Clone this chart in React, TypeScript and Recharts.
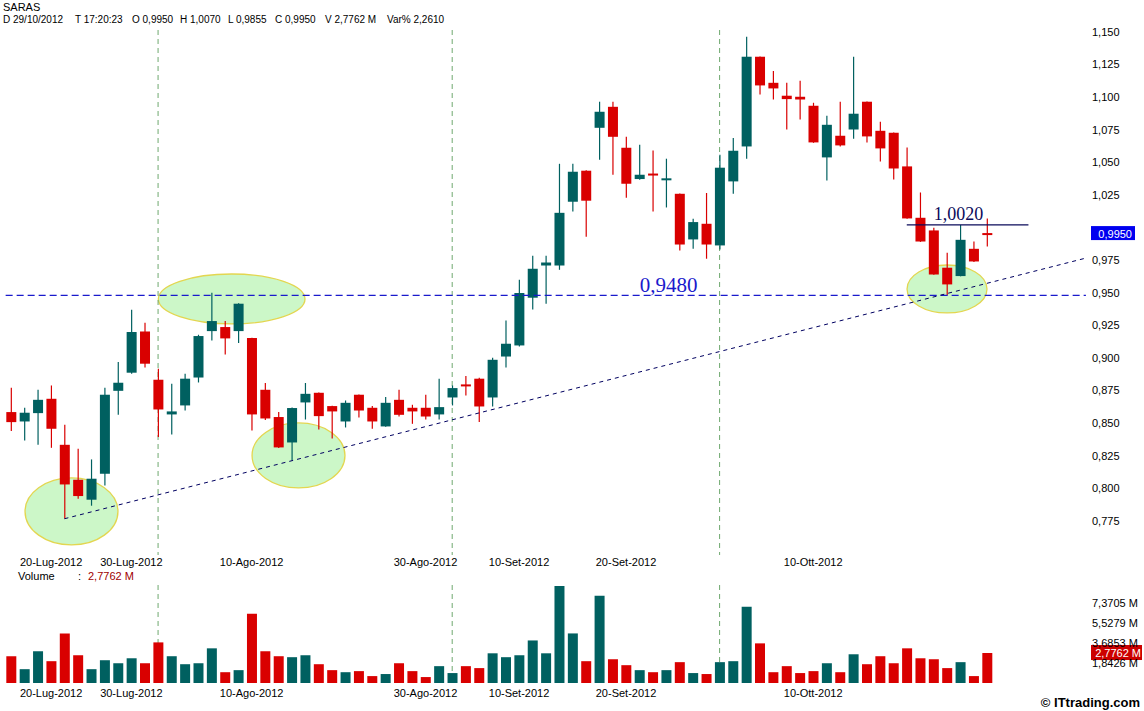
import React from 'react';
import {
  ComposedChart,
  Bar,
  XAxis,
  YAxis,
  ReferenceLine,
  ReferenceArea,
  ReferenceDot,
  Cell,
} from 'recharts';

// ---------- DATA ----------
const opens = [
  0.8585, 0.8513, 0.8577, 0.8687, 0.8334, 0.8066, 0.7913, 0.8112, 0.8748, 0.8887,
  0.9203, 0.8833, 0.8567, 0.8636, 0.885, 0.9206, 0.9237, 0.9206, 0.9153, 0.8756,
  0.8547, 0.8352, 0.8659, 0.8733, 0.8631, 0.8513, 0.8718, 0.8618, 0.8475, 0.8679,
  0.8618, 0.8618, 0.8567, 0.8697, 0.8794, 0.8841, 0.8697, 0.9011, 0.9096, 0.9462,
  0.9709, 0.9709, 1.0198, 1.0436, 1.0765, 1.0926, 1.0612, 1.0372, 1.0413, 1.0364,
  1.0259, 0.9909, 1.0029, 0.9863, 1.0354, 1.0622, 1.131, 1.111, 1.1011, 1.1003,
  1.0934, 1.0538, 1.0704, 1.0752, 1.0965, 1.0742, 1.0727, 1.0469, 1.0075, 0.9978,
  0.9692, 0.9628, 0.9837, 0.995,
];
const highs = [
  0.8771, 0.8618, 0.8756, 0.8789, 0.8488, 0.8304, 0.8222, 0.8771, 0.8969, 0.937,
  0.927, 0.8917, 0.8802, 0.8879, 0.9178, 0.95, 0.9283, 0.942, 0.9155, 0.8808,
  0.8585, 0.862, 0.8808, 0.8735, 0.8633, 0.8674, 0.872, 0.8631, 0.87, 0.8756,
  0.8641, 0.8718, 0.8841, 0.8789, 0.8861, 0.8848, 0.9002, 0.9288, 0.96, 0.9784,
  0.9784, 1.0489, 1.0489, 1.044, 1.0965, 1.0965, 1.0696, 1.0635, 1.0591, 1.0528,
  1.0262, 1.0067, 1.0265, 1.0558, 1.0686, 1.1463, 1.1312, 1.12, 1.111, 1.1126,
  1.0957, 1.0857, 1.0965, 1.131, 1.0967, 1.0811, 1.0729, 1.0614, 1.0269, 0.9998,
  0.9807, 1.002, 0.9893, 1.007,
];
const lows = [
  0.8439, 0.8367, 0.8334, 0.8311, 0.7767, 0.792, 0.7867, 0.8022, 0.8564, 0.8879,
  0.8927, 0.8393, 0.8413, 0.8597, 0.8812, 0.9134, 0.9027, 0.9114, 0.8444, 0.8524,
  0.831, 0.8214, 0.8528, 0.8452, 0.8383, 0.8467, 0.8544, 0.8457, 0.8473, 0.8551,
  0.8495, 0.8528, 0.8528, 0.8636, 0.8712, 0.8508, 0.8628, 0.8927, 0.9088, 0.9372,
  0.9416, 0.9676, 1.0123, 0.9929, 1.052, 1.0405, 1.0229, 1.0367, 1.0123, 1.0154,
  0.9824, 0.9837, 0.9761, 0.9832, 1.0259, 1.0528, 1.1021, 1.0982, 1.0752, 1.0829,
  1.065, 1.0361, 1.0622, 1.0681, 1.0653, 1.0507, 1.0369, 1.0068, 0.989, 0.9638,
  0.948, 0.9626, 0.9735, 0.9855,
];
const closes = [
  0.8508, 0.858, 0.8679, 0.8457, 0.803, 0.7941, 0.8074, 0.8718, 0.881, 0.9199,
  0.8956, 0.8605, 0.859, 0.8841, 0.9168, 0.9283, 0.915, 0.9416, 0.8567, 0.8536,
  0.8314, 0.8616, 0.8725, 0.8554, 0.859, 0.8656, 0.8597, 0.8513, 0.8656, 0.8564,
  0.859, 0.8551, 0.8623, 0.8769, 0.8785, 0.8628, 0.8986, 0.9109, 0.9498, 0.9684,
  0.9732, 1.0113, 1.0428, 1.0206, 1.0888, 1.0696, 1.0336, 1.0405, 1.04, 1.0376,
  0.987, 1.0042, 0.987, 1.0459, 1.0589, 1.131, 1.109, 1.1067, 1.0985, 1.0982,
  1.0653, 1.0788, 1.063, 1.0873, 1.0699, 1.0607, 1.0453, 1.007, 0.9893, 0.964,
  0.9564, 0.9906, 0.974, 0.995,
];
// volume in millions
const volumes = [
  2.48, 1.28, 2.94, 2.02, 4.59, 2.57, 1.28, 2.11, 1.83, 2.29,
  1.83, 3.76, 2.48, 1.74, 1.83, 3.21, 1.0, 1.19, 6.42, 2.94,
  2.48, 2.39, 2.57, 1.74, 1.19, 1.0, 1.1, 0.64, 0.83, 1.83,
  1.1, 0.55, 1.56, 0.92, 1.56, 1.38, 2.75, 2.39, 2.57, 3.94,
  2.75, 8.99, 4.59, 2.02, 8.07, 2.2, 1.65, 1.19, 1.0, 1.19,
  1.93, 0.92, 0.83, 1.93, 2.02, 7.06, 3.67, 1.0, 1.56, 0.92,
  1.1, 1.83, 1.0, 2.66, 1.74, 2.48, 1.83, 3.21, 2.29, 2.2,
  1.38, 1.93, 0.64, 2.7762,
];

const tickIdx = [3, 9, 18, 31, 38, 46, 60];
const tickLabels = ['20-Lug-2012', '30-Lug-2012', '10-Ago-2012', '30-Ago-2012', '10-Set-2012', '20-Set-2012', '10-Ott-2012'];
const monthStarts = [11, 33, 53];
const priceTicks = [0.775, 0.8, 0.825, 0.85, 0.875, 0.9, 0.925, 0.95, 0.975, 1.025, 1.05, 1.075, 1.1, 1.125, 1.15];
const volumeTicks = [1.8426, 3.6853, 5.5279, 7.3705];

// annotations (data coordinates)
const ellipseX1 = [1.05, 11.02, 18.03, 67.02];
const ellipseX2 = [8.0, 21.99, 24.98, 73.0];
const ellipseY1 = [0.7566, 0.9261, 0.8003, 0.9345];
const ellipseY2 = [0.808, 0.9644, 0.8502, 0.9713];
const supportLevel = 0.948;
const resistLevel = 1.002;
const trendStart = { x: 4, y: 0.7767 };
const trendEnd = { x: 80.4, y: 0.9766 };
const lastPrice = 0.995;
const lastVolume = 2.7762;

// ---------- STYLE ----------
const TEAL = '#006060';
const RED = '#d90000';
const GREEN_DASH = '#6fa86f';
const X_DOMAIN: [number, number] = [-0.8227, 80.48];
const PRICE_DOMAIN: [number, number] = [0.7489, 1.1515];
const VOL_DOMAIN: [number, number] = [0, 9.074];
const FONT = 'Arial, "Liberation Sans", sans-serif';

const data = opens.map((o, i) => ({
  i,
  o,
  h: highs[i],
  l: lows[i],
  c: closes[i],
  v: volumes[i],
  range: [lows[i], highs[i]],
}));

const isUp = (d: { o: number; c: number }) => d.c > d.o;

const fmtPrice = (v: number) => v.toFixed(3).replace('.', ',');
const fmtVol = (v: number) => v.toFixed(4).replace('.', ',') + ' M';
const fmtDate = (v: number) => {
  const k = tickIdx.indexOf(v);
  return k >= 0 ? tickLabels[k] : '';
};

function CandleShape(props: any) {
  const { x, width, payload } = props;
  let { y, height } = props;
  if (height < 0) {
    y = y + height;
    height = -height;
  }
  const { o, h, l, c } = payload;
  const color = c > o ? TEAL : RED;
  const k = height / (h - l);
  const yO = y + (h - o) * k;
  const yC = y + (h - c) * k;
  let top = Math.min(yO, yC);
  let bh = Math.abs(yO - yC);
  if (bh < 2) {
    top = (yO + yC) / 2 - 1;
    bh = 2;
  }
  const cx = x + width / 2;
  return (
    <g>
      <line x1={cx} x2={cx} y1={y} y2={y + height} stroke={color} strokeWidth={1.2} />
      <rect x={x} y={top} width={width} height={bh} fill={color} />
    </g>
  );
}

const EllipseShape = (props: any) => {
  const { x, y, width, height } = props;
  return (
    <ellipse
      cx={x + width / 2}
      cy={y + height / 2}
      rx={Math.abs(width) / 2}
      ry={Math.abs(height) / 2}
      fill="#ccf7c8"
      stroke="#e3d650"
      strokeWidth={1.3}
    />
  );
};

// vertical dashed month separator drawn behind the series
const MonthLineShape = (props: any) => {
  const { x, y, width, height } = props;
  const cx = x + width / 2;
  return <line x1={cx} x2={cx} y1={y} y2={y + height} stroke={GREEN_DASH} strokeDasharray="5 4" strokeWidth={1} />;
};

const PriceTag = (props: any) => {
  const { cx, cy } = props;
  return (
    <g>
      <rect x={cx + 4} y={cy - 8} width={44} height={14} fill="#0000f0" />
      <text x={cx + 45} y={cy + 3.5} textAnchor="end" fontSize={11} fill="#fff" fontFamily={FONT}>
        {fmtPrice(lastPrice) + '0'}
      </text>
    </g>
  );
};

const VolTag = (props: any) => {
  const { cx, cy } = props;
  return (
    <g>
      <rect x={cx + 4} y={cy - 8} width={51} height={15} fill="#cc0000" />
      <text x={cx + 54} y={cy + 4} textAnchor="end" fontSize={11} fill="#fff" fontFamily={FONT}>
        {fmtVol(lastVolume)}
      </text>
    </g>
  );
};

const SupportText = (props: any) => (
  <text x={props.cx} y={props.cy - 3} textAnchor="middle" fontSize={21} fill="#1a1acc" fontFamily='"Liberation Serif", "Times New Roman", serif'>
    {'0,9480'}
  </text>
);

const ResistText = (props: any) => (
  <text x={props.cx} y={props.cy - 5} textAnchor="middle" fontSize={18} fill="#0a0a5a" fontFamily='"Liberation Serif", "Times New Roman", serif'>
    {'1,0020'}
  </text>
);

const axisTick = { fontSize: 11, fill: '#000', fontFamily: FONT };

const VolTick = (props: any) => (
  <text x={props.x} y={props.y} dy={4} textAnchor="start" fontSize={11} fill="#000" fontFamily={FONT}>
    {fmtVol(props.payload.value)}
  </text>
);

export default function App() {
  return (
    <div style={{ position: 'absolute', left: 0, top: 0, width: 1144, height: 711, background: '#fff', overflow: 'hidden' }}>
      <div style={{ position: 'absolute', left: 0, top: 0 }}>
        <ComposedChart width={1144} height={578} data={data} margin={{ top: 30, right: 0, bottom: 3, left: 0 }}>
          <XAxis
            type="number"
            dataKey="i"
            domain={X_DOMAIN}
            allowDataOverflow
            ticks={tickIdx}
            interval={0}
            tickFormatter={fmtDate}
            axisLine={false}
            tickLine={false}
            tickSize={0}
            tickMargin={3}
            height={20}
            tick={axisTick}
          />
          <YAxis
            orientation="right"
            type="number"
            domain={PRICE_DOMAIN}
            allowDataOverflow
            ticks={priceTicks}
            interval={0}
            tickFormatter={fmtPrice}
            axisLine={false}
            tickLine={false}
            tickSize={0}
            tickMargin={5}
            width={57}
            tick={axisTick}
          />
          {ellipseX1.map((x1, k) => (
            <ReferenceArea
              key={'e' + k}
              x1={x1}
              x2={ellipseX2[k]}
              y1={ellipseY1[k]}
              y2={ellipseY2[k]}
              shape={EllipseShape}
              ifOverflow="visible"
            />
          ))}
          {monthStarts.map((m) => (
            <ReferenceArea key={'m' + m} x1={m - 0.01} x2={m + 0.01} shape={MonthLineShape} />
          ))}
          <Bar dataKey="range" barSize={10} shape={CandleShape} isAnimationActive={false} />
          <ReferenceLine
            segment={[{ x: -0.4, y: supportLevel }, { x: 80.4, y: supportLevel }]}
            stroke="#1a1acc"
            strokeDasharray="7 4"
            strokeWidth={1.2}
            ifOverflow="visible"
          />
          <ReferenceLine
            segment={[trendStart, trendEnd]}
            stroke="#000060"
            strokeDasharray="4 4"
            strokeWidth={1}
            ifOverflow="visible"
          />
          <ReferenceLine
            segment={[{ x: 67.0, y: resistLevel }, { x: 76.1, y: resistLevel }]}
            stroke="#0a0a5a"
            strokeWidth={1.2}
            ifOverflow="visible"
          />
          <ReferenceDot x={49.18} y={supportLevel} r={0} shape={SupportText} ifOverflow="visible" />
          <ReferenceDot x={70.87} y={resistLevel} r={0} shape={ResistText} ifOverflow="visible" />
          <ReferenceDot x={X_DOMAIN[1]} y={lastPrice} r={0} shape={PriceTag} ifOverflow="visible" />
        </ComposedChart>
      </div>
      <div style={{ position: 'absolute', left: 0, top: 578 }}>
        <ComposedChart width={1144} height={133} data={data} margin={{ top: 7, right: 0, bottom: 8, left: 0 }}>
          <XAxis
            type="number"
            dataKey="i"
            domain={X_DOMAIN}
            allowDataOverflow
            ticks={tickIdx}
            interval={0}
            tickFormatter={fmtDate}
            axisLine={false}
            tickLine={false}
            tickSize={0}
            tickMargin={6}
            height={20}
            tick={axisTick}
          />
          <YAxis
            orientation="right"
            type="number"
            domain={VOL_DOMAIN}
            allowDataOverflow
            ticks={volumeTicks}
            interval={0}
            axisLine={false}
            tickLine={false}
            tickSize={0}
            tickMargin={5}
            width={57}
            tick={VolTick}
          />
          {monthStarts.map((m) => (
            <ReferenceArea key={'vm' + m} x1={m - 0.01} x2={m + 0.01} shape={MonthLineShape} />
          ))}
          <Bar dataKey="v" barSize={10} isAnimationActive={false}>
            {data.map((d) => (
              <Cell key={'c' + d.i} fill={isUp(d) ? TEAL : RED} />
            ))}
          </Bar>
          <ReferenceDot x={X_DOMAIN[1]} y={lastVolume} r={0} shape={VolTag} ifOverflow="visible" />
        </ComposedChart>
      </div>
      <svg width={1144} height={711} style={{ position: 'absolute', left: 0, top: 0, pointerEvents: 'none' }}>
        <text x={3} y={11} fontSize={11} fill="#000" fontFamily={FONT}>SARAS</text>
        <text y={23} fontSize={10} fill="#000" fontFamily={FONT}>
          <tspan x={3}>D</tspan>
          <tspan x={13}>29/10/2012</tspan>
          <tspan x={75}>T 17:20:23</tspan>
          <tspan x={132}>O 0,9950</tspan>
          <tspan x={180}>H 1,0070</tspan>
          <tspan x={228}>L 0,9855</tspan>
          <tspan x={275}>C 0,9950</tspan>
          <tspan x={325}>V 2,7762 M</tspan>
          <tspan x={387}>Var% 2,2610</tspan>
        </text>
        <text y={580} fontSize={11} fontFamily={FONT}>
          <tspan x={18} fill="#000">Volume</tspan>
          <tspan x={78} fill="#000">:</tspan>
          <tspan x={88} fill="#a00000">2,7762 M</tspan>
        </text>
        <text x={1140} y={707} textAnchor="end" fontSize={13} fontWeight="bold" fill="#000" fontFamily={FONT}>
          © ITtrading.com
        </text>
      </svg>
    </div>
  );
}
